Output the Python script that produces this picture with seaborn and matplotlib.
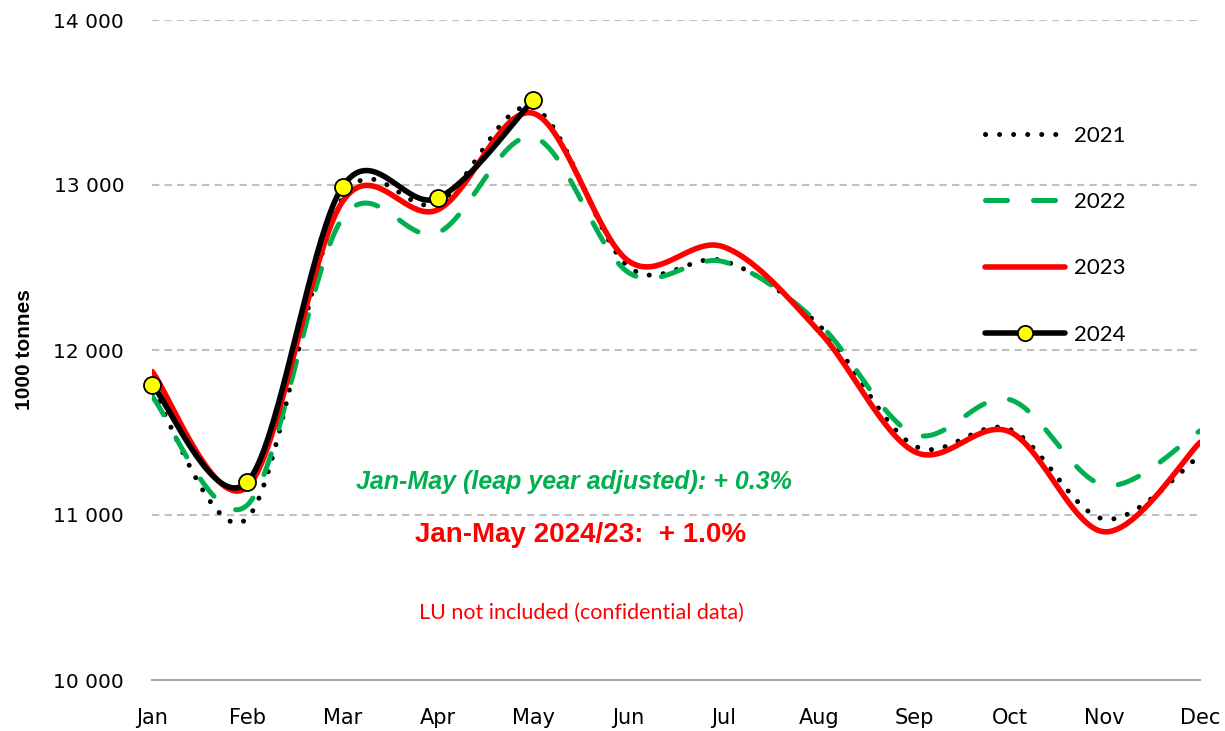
import numpy as np
import pandas as pd
import matplotlib
matplotlib.use("Agg")
import matplotlib.pyplot as plt
import seaborn as sns
from matplotlib.lines import Line2D

sns.set_style("white")
plt.rcParams['font.family'] = ['DejaVu Sans']
plt.rcParams['text.color'] = 'black'
plt.rcParams['xtick.color'] = 'black'
plt.rcParams['ytick.color'] = 'black'
plt.rcParams['axes.labelcolor'] = 'black'

months = ["Jan", "Feb", "Mar", "Apr", "May", "Jun",
          "Jul", "Aug", "Sep", "Oct", "Nov", "Dec"]
y2021 = [11760, 10980, 12920, 12890, 13470, 12505, 12540, 12150, 11420, 11520, 10975, 11360]
y2022 = [11720, 11060, 12800, 12710, 13290, 12470, 12535, 12160, 11490, 11700, 11180, 11510]
y2023 = [11870, 11170, 12900, 12850, 13435, 12540, 12625, 12115, 11385, 11505, 10898, 11440]
y2024 = [11790, 11200, 12990, 12920, 13515]
yticks = [10000, 11000, 12000, 13000, 14000]


def smooth(vals, n=40):
    # Excel style smoothed line (Catmull-Rom bezier through the points)
    pts = np.column_stack([np.arange(len(vals), dtype=float), np.array(vals, float)])
    ext = np.vstack([pts[0], pts, pts[-1]])
    t = np.linspace(0, 1, n, endpoint=False)[:, None]
    out = []
    for i in range(len(pts) - 1):
        p0, p1, p2, p3 = ext[i], ext[i + 1], ext[i + 2], ext[i + 3]
        c1 = p1 + (p2 - p0) / 6
        c2 = p2 - (p3 - p1) / 6
        out.append((1 - t) ** 3 * p1 + 3 * (1 - t) ** 2 * t * c1
                   + 3 * (1 - t) * t ** 2 * c2 + t ** 3 * p2)
    out.append(pts[-1:])
    s = np.vstack(out)
    return pd.DataFrame({"x": s[:, 0], "y": s[:, 1]})


fig = plt.figure(figsize=(12.25, 7.31), dpi=100)
ax = fig.add_axes([152 / 1225, 1 - 680 / 731, 1048 / 1225, 660 / 731])

green = "#00B050"
red = "#FF0000"
dots = (0, (0.01, 2.8))
dashes = (0, (4.4, 5.2))

d = smooth(y2021)
sns.lineplot(data=d, x="x", y="y", ax=ax, sort=False, estimator=None, color="black",
             linewidth=3.6, linestyle=dots, dash_capstyle="round", zorder=3)
d = smooth(y2022)
sns.lineplot(data=d, x="x", y="y", ax=ax, sort=False, estimator=None, color=green,
             linewidth=3.6, linestyle=dashes, dash_capstyle="round", zorder=4)
d = smooth(y2023)
sns.lineplot(data=d, x="x", y="y", ax=ax, sort=False, estimator=None, color=red,
             linewidth=4.0, solid_capstyle="round", zorder=5)
d = smooth(y2024)
sns.lineplot(data=d, x="x", y="y", ax=ax, sort=False, estimator=None, color="black",
             linewidth=4.0, solid_capstyle="round", zorder=6)
sns.scatterplot(x=np.arange(len(y2024)), y=y2024, ax=ax, color="#FFFF00", edgecolor="black",
                linewidth=1.3, s=150, zorder=7, clip_on=False)

ax.set_xlim(0, 11)
ax.set_ylim(10000, 14000)
ax.set_xticks(range(12))
ax.set_xticklabels(months, fontsize=15)
ax.set_yticks(yticks)
ax.set_yticklabels([f"{v:,}".replace(",", " ") for v in yticks], fontsize=14.5)
ax.set_xlabel("")
ax.set_ylabel("1000 tonnes", fontsize=15, fontweight="bold",
              family=["Liberation Sans Narrow", "Liberation Sans"])
ax.yaxis.set_label_coords(-0.113, 0.5)

ax.grid(axis="y", color="#C0C0C0", linestyle=(0, (3.5, 2.5)), linewidth=1.5)
ax.grid(axis="x", visible=False)
ax.set_axisbelow(True)
for s in ["left", "right", "top"]:
    ax.spines[s].set_visible(False)
ax.spines["bottom"].set_color("#A6A6A6")
ax.spines["bottom"].set_linewidth(1.5)
ax.spines["bottom"].set_zorder(2)
ax.tick_params(axis="x", direction="out", length=5, width=1.5, color="#A6A6A6",
               labelcolor="black", pad=15)
ax.tick_params(axis="y", length=0, pad=20, labelcolor="black")

handles = [
    Line2D([], [], color="black", linewidth=3.6, linestyle=dots, dash_capstyle="round"),
    Line2D([], [], color=green, linewidth=3.6, linestyle=dashes, dash_capstyle="round"),
    Line2D([], [], color=red, linewidth=4.0, solid_capstyle="round"),
    Line2D([], [], color="black", linewidth=4.0, solid_capstyle="round", marker="o",
           markersize=11, markerfacecolor="#FFFF00", markeredgecolor="black", markeredgewidth=1.3),
]
leg = ax.legend(handles, ["2021", "2022", "2023", "2024"], loc="upper left",
                bbox_to_anchor=(0.795, 0.84), frameon=False, borderpad=0, borderaxespad=0,
                handlelength=3.6, handletextpad=0.4, labelspacing=2.09, markerscale=1,
                prop={"family": "Lato", "size": 16})
for t in leg.get_texts():
    t.set_color("black")

ax.text(0.403, 0.3005, "Jan-May (leap year adjusted): + 0.3%", transform=ax.transAxes,
        ha="center", va="center", color=green, fontsize=18, fontweight="bold",
        fontstyle="italic", family="Liberation Sans")
ax.text(0.409, 0.22, "Jan-May 2024/23:  + 1.0%", transform=ax.transAxes,
        ha="center", va="center", color=red, fontsize=20, fontweight="bold",
        family="Liberation Sans")
ax.text(0.410, 0.102, "LU not included (confidential data)", transform=ax.transAxes,
        ha="center", va="center", color=red, fontsize=15.5, family="Lato")

fig.savefig("out.png", dpi=100)
